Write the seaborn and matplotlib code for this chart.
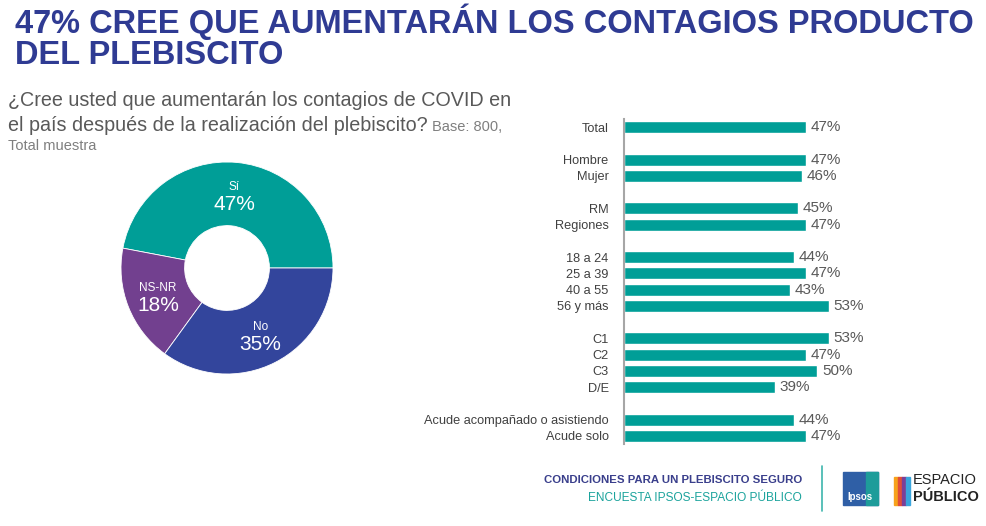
import matplotlib
matplotlib.use("Agg")
import matplotlib.pyplot as plt
import seaborn as sns
import pandas as pd
from matplotlib.patches import Rectangle
import numpy as np

# data
pie_labels = ["Sí", "NS-NR", "No"]
pie_values = [47, 18, 35]
pie_colors = ["#009E97", "#72408F", "#33459C"]

bar_labels = ["Total", "Hombre", "Mujer", "RM", "Regiones",
              "18 a 24", "25 a 39", "40 a 55", "56 y más",
              "C1", "C2", "C3", "D/E",
              "Acude acompañado o asistiendo", "Acude solo"]
bar_values = [47, 47, 46, 45, 47, 44, 47, 43, 53, 53, 47, 50, 39, 44, 47]
groups = [["Total"], ["Hombre", "Mujer"], ["RM", "Regiones"],
          ["18 a 24", "25 a 39", "40 a 55", "56 y más"],
          ["C1", "C2", "C3", "D/E"],
          ["Acude acompañado o asistiendo", "Acude solo"]]

TEAL = "#009E97"
BLUE = "#2F3B93"
GRAY = "#595959"

sns.set_theme(style="white")
plt.rcParams['font.family'] = ['Liberation Sans', 'DejaVu Sans']

W, H = 987, 526
fig = plt.figure(figsize=(W / 100, H / 100), dpi=100)

def fx(px):
    return px / W

def fy(py):
    return 1 - py / H

# title
fig.text(fx(15), fy(22), "47% CREE QUE AUMENTARÁN LOS CONTAGIOS PRODUCTO",
         fontsize=23.5, fontweight='bold', color=BLUE, va='center', ha='left')
fig.text(fx(15), fy(56), "DEL PLEBISCITO",
         fontsize=23.5, fontweight='bold', color=BLUE, va='center', ha='left')

# question text
fig.text(fx(8), fy(101), "¿Cree usted que aumentarán los contagios de COVID en",
         fontsize=14.2, color=GRAY, va='center', ha='left')
fig.text(fx(8), fy(126), "el país después de la realización del plebiscito?",
         fontsize=14.2, color=GRAY, va='center', ha='left')
fig.text(fx(432), fy(127), "Base: 800,", fontsize=10.5, color="#7F7F7F", va='center', ha='left')
fig.text(fx(8), fy(146), "Total muestra", fontsize=10.5, color="#7F7F7F", va='center', ha='left')

# donut
cx, cy, r = 227, 268, 106
ax_pie = fig.add_axes([fx(cx - r), fy(cy + r), 2 * r / W, 2 * r / H])
wedges, _ = ax_pie.pie(pie_values, colors=pie_colors, startangle=0, counterclock=True,
                       wedgeprops=dict(width=0.6, edgecolor='white', linewidth=0.6))
ax_pie.set_xlim(-1, 1)
ax_pie.set_ylim(-1, 1)
ax_pie.set_aspect('equal')
ax_pie.axis('off')
for w, lab, val in zip(wedges, pie_labels, pie_values):
    ang = np.deg2rad((w.theta1 + w.theta2) / 2)
    x, y = 0.7 * np.cos(ang), 0.7 * np.sin(ang)
    ax_pie.text(x, y + 0.07, lab, color='white', fontsize=8.5, ha='center', va='center')
    ax_pie.text(x, y - 0.10, f"{val}%", color='white', fontsize=15, ha='center', va='center')

# bars
order = []
for i, g in enumerate(groups):
    if i > 0:
        order.append(f"_gap{i}")
    order.extend(g)
df = pd.DataFrame({"label": bar_labels, "value": bar_values})

ax = fig.add_axes([fx(624), fy(444), 232 / W, 325 / H])
sns.barplot(data=df, x="value", y="label", order=order, color=TEAL,
            saturation=1, width=0.75, ax=ax)
ax.set_xlim(0, 60)
ax.set_xlabel("")
ax.set_ylabel("")
ax.set_xticks([])
ax.set_yticks(range(len(order)))
ax.set_yticklabels(["" if o.startswith("_gap") else o for o in order],
                   fontsize=9.2, color="#404040")
ax.tick_params(axis='y', length=0, pad=11)
for s in ["top", "right", "bottom"]:
    ax.spines[s].set_visible(False)
ax.spines["left"].set_color("#A6A6A6")
ax.spines["left"].set_linewidth(1.5)
for lab, val in zip(bar_labels, bar_values):
    ax.text(val + 1.2, order.index(lab), f"{val}%", va='center', ha='left',
            fontsize=11, color=GRAY)

# footer
fig.text(fx(802), fy(480), "CONDICIONES PARA UN PLEBISCITO SEGURO", fontsize=8.2,
         fontweight='bold', color="#3A3F8C", ha='right', va='center')
fig.text(fx(802), fy(498), "ENCUESTA IPSOS-ESPACIO PÚBLICO", fontsize=8.6,
         color="#1BA39C", ha='right', va='center')
fig.add_artist(plt.Line2D([fx(822), fx(822)], [fy(466), fy(511)], color="#3DB5AD", lw=1.2))
fig.add_artist(Rectangle((fx(843), fy(505)), 35 / W, 33 / H, color="#2F5FA6",
                         transform=fig.transFigure))
fig.add_artist(Rectangle((fx(866), fy(505)), 12 / W, 33 / H, color="#1E9C9A",
                         transform=fig.transFigure))
fig.text(fx(860), fy(497), "Ipsos", fontsize=7, fontweight='bold', color='white',
         ha='center', va='center')
for i, c in enumerate(["#F7A21B", "#E04E39", "#7B3F98", "#3AA6DD"]):
    fig.add_artist(Rectangle((fx(894 + i * 4), fy(505)), 4 / W, 28 / H, color=c,
                             transform=fig.transFigure))
fig.text(fx(913), fy(480), "ESPACIO", fontsize=10.5, color="#222222", ha='left', va='center')
fig.text(fx(913), fy(497), "PÚBLICO", fontsize=10.5, fontweight='bold', color="#222222",
         ha='left', va='center')

fig.savefig("out.png", dpi=100, facecolor='white')
